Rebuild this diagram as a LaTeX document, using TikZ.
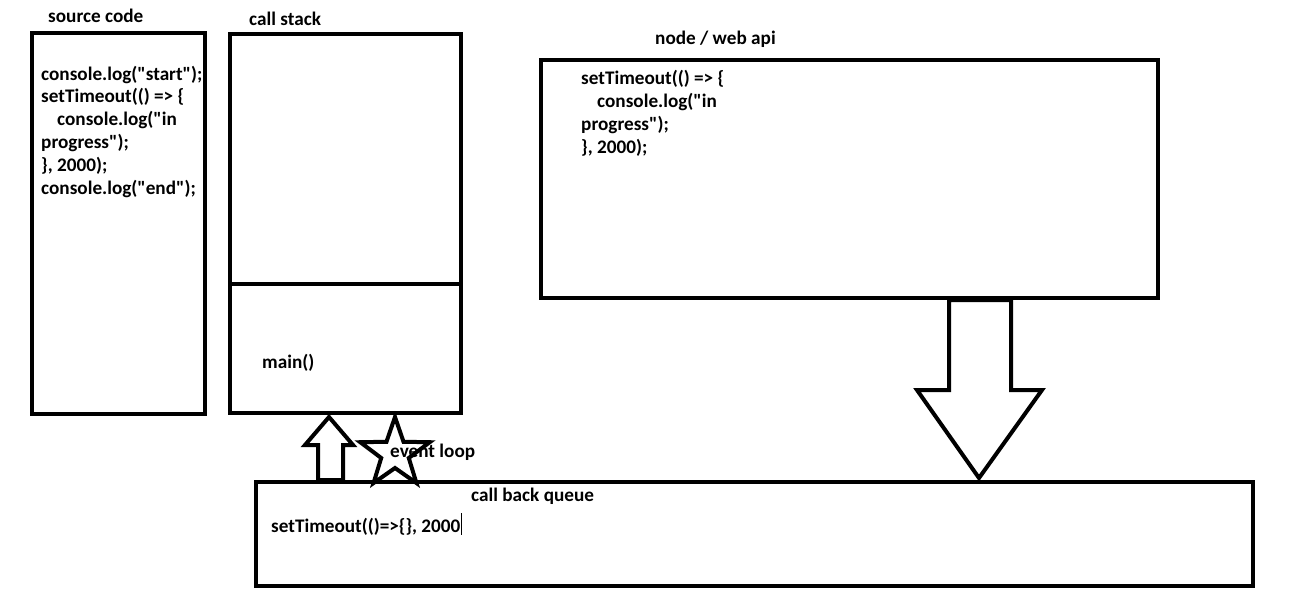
\documentclass[tikz,border=0pt]{standalone}
\usepackage{fontspec}
\setmainfont{Carlito}[Ligatures=ResetAll]
\newcommand{\dq}{\XeTeXglyph\XeTeXcharglyph34\relax}
\begin{document}
\begin{tikzpicture}[x=1pt,y=-1pt,
  box/.style={draw, line width=4pt, inner sep=0pt, outer sep=0pt},
  txt/.style={font=\bfseries\fontsize{19.2}{23}\selectfont, inner sep=0pt, anchor=base west},
  bigarrow/.style={draw, line width=4pt, fill=white, line join=miter}]
\useasboundingbox (0,0) rectangle (1307,600);
\fill[white] (0,0) rectangle (1307,600);

% boxes
\node[box, minimum width=173pt, minimum height=381pt] (src) at (118,223.5) {};
\node[box, minimum width=231pt, minimum height=379pt] (stack) at (345.5,223.5) {};
\coordinate (divL) at (230,284);
\coordinate (divR) at (461,284);
\draw[line width=4pt] (divL) -- (divR);
\node[box, minimum width=617pt, minimum height=238pt] (api) at (849.5,179) {};
\node[box, minimum width=997pt, minimum height=104pt] (queue) at (754.5,534) {};

% titles
\node[txt] (tsrc) at (48,22) {source code};
\node[txt] (tstack) at (249,25) {call stack};
\node[txt] (tapi) at (655,44) {node / web api};

% source code text
\node[txt] (s1) at (41,80) {console.log(\dq start\dq);};
\node[txt] (s2) at (41,102.8) {setTimeout(() => \{};
\node[txt] (s3) at (57,125.6) {console.log(\dq in};
\node[txt] (s4) at (41,148.4) {progress\dq);};
\node[txt] (s5) at (41,171.2) {\}, 2000);};
\node[txt] (s6) at (41,194) {console.log(\dq end\dq);};

% api text
\node[txt] (a1) at (581,84) {setTimeout(() => \{};
\node[txt] (a2) at (597,107) {console.log(\dq in};
\node[txt] (a3) at (581,130) {progress\dq);};
\node[txt] (a4) at (581,153) {\}, 2000);};

\node[txt] (mainf) at (262,368) {main()};

% down arrow from api to queue
\draw[bigarrow] (949,300) -- (949,390) -- (917,390) -- (979,478) -- (1042,390) -- (1011,390) -- (1011,300) -- cycle;

% up arrow from queue to stack
\draw[bigarrow] (318,480) -- (318,445) -- (305,445) -- (329,417) -- (353,445) -- (343,445) -- (343,480) -- cycle;

% star (event loop)
\draw[bigarrow, shift={(395,453.5)}] (-90:36.5) -- (-54:14.5) -- (-18:36.5) -- (18:14.5) -- (54:36.5) -- (90:14.5) -- (126:36.5) -- (162:14.5) -- (198:36.5) -- (234:14.5) -- cycle;

\node[txt] (evloop) at (390,457) {event loop};
\node[txt] (tqueue) at (471,501) {call back queue};
\node[txt] (q1) at (271,532) {setTimeout(()=>\{\}, 2000};
\coordinate (curTop) at ([xshift=1pt]q1.east |- 0,513);
\coordinate (curBot) at ([xshift=1pt]q1.east |- 0,535);
\draw[line width=1pt] (curTop) -- (curBot);
\end{tikzpicture}
\end{document}
